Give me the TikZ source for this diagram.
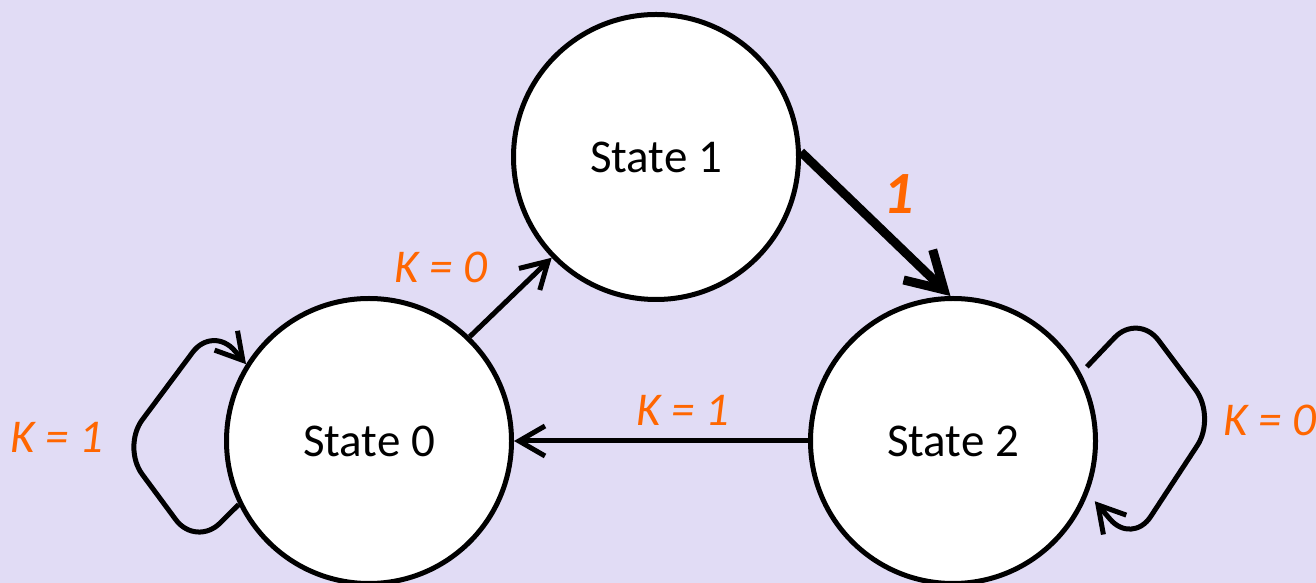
\documentclass[tikz,border=0pt]{standalone}
\usepackage{fontspec}
\setmainfont{Carlito}
\usetikzlibrary{arrows.meta,calc}
\definecolor{bg}{HTML}{E1DCF5}
\definecolor{lbl}{HTML}{FF6600}
\begin{document}
\begin{tikzpicture}[x=1pt,y=1pt,
  state/.style={circle,draw=black,fill=white,line width=5pt,minimum size=285pt,
    inner sep=0pt,font=\fontsize{47}{56}\selectfont},
  edge/.style={line width=5pt,-{Straight Barb[length=26pt,width=30pt]}},
  heavy/.style={line width=9pt,-{Straight Barb[length=36pt,width=42pt]}},
  cond/.style={text=lbl,inner sep=0pt,font=\itshape\fontsize{47}{56}\selectfont},
]
\path[fill=bg,use as bounding box] (0,0) rectangle (1316,583);

% states
\node[state] (s1) at (656,426) {State 1};
\node[state] (s0) at (369,142) {State 0};
\node[state] (s2) at (953,142) {State 2};

% transitions
\draw[edge] (s0.46) -- (s1.224);
\draw[heavy] (s1.2) -- (s2.91);
\draw[edge] (s2.west) -- (s0.east);

% self loops
\draw[edge,rounded corners=34pt] (s0.206) -- (196,36) -- (122,136) -- (213,258) -- (s0.148);
\coordinate (l2a) at ($(s2.center)+(29:153)$);
\coordinate (l2b) at ($(s2.center)+(-23:154)$);
\draw[edge,rounded corners=34pt] (l2a) -- (1138,270) -- (1216,166) -- (1132,38) -- (l2b);

% conditions
\node[cond] (c01) at (441,316) {K = 0};
\node[cond] (c20) at (683,173) {K = 1};
\node[cond] (c00) at (57,146) {K = 1};
\node[cond,anchor=west] (c22) at (1223,163) {K = 0};
\node[text=lbl,inner sep=0pt,font=\bfseries\itshape\fontsize{60}{70}\selectfont] (c12) at (899,389) {1};
\end{tikzpicture}
\end{document}
